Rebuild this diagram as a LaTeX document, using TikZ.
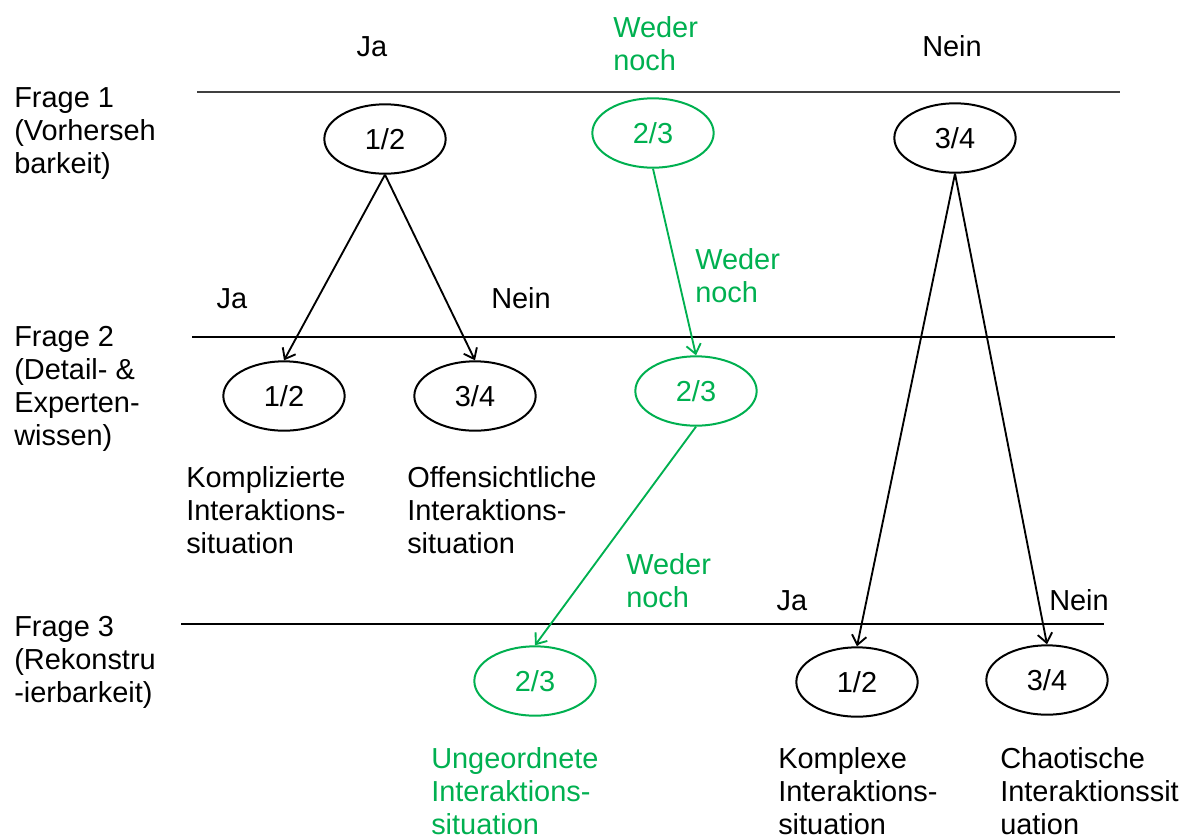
\documentclass[tikz,border=0pt]{standalone}
\usepackage{fontspec}
\setmainfont{Liberation Sans}
\usetikzlibrary{shapes.geometric,arrows.meta}
\definecolor{pgreen}{HTML}{00B050}
\begin{document}
\begin{tikzpicture}[x=0.75pt,y=-0.75pt,
  every node/.style={font=\fontsize{21.7}{24.75}\selectfont, inner sep=0pt},
  lbl/.style={anchor=base west, align=left},
  clbl/.style={anchor=base, align=center},
  oval/.style={draw, ellipse, line width=1.5pt, minimum width=91pt, minimum height=52pt},
  goval/.style={oval, draw=pgreen, text=pgreen},
  arr/.style={line width=1.4pt, -{Straight Barb[length=7pt,width=11pt]}},
  garr/.style={arr, draw=pgreen},
  gtxt/.style={lbl, text=pgreen},
  hline/.style={line width=0.8pt}]
\useasboundingbox (0,0) rectangle (1185,836);

% horizontal lines
\coordinate (l1a) at (197,92);  \coordinate (l1b) at (1120,92);
\coordinate (l2a) at (192,337); \coordinate (l2b) at (1115,337);
\coordinate (l3a) at (181,624); \coordinate (l3b) at (1104,624);
\draw[hline, draw=black!75, line width=1.1pt] (l1a) -- (l1b);
\draw[hline] (l2a) -- (l2b);
\draw[hline] (l3a) -- (l3b);

% top labels (base anchor = baseline of last line)
\node[clbl] (ja1) at (372,56) {Ja};
\node[gtxt] (wn1) at (613,70) {Weder\\noch};
\node[clbl] (nein1) at (952,56) {Nein};

% question labels
\node[lbl] (f1) at (14,173) {Frage 1\\(Vorherseh\\barkeit)};
\node[lbl] (f2) at (14,445) {Frage 2\\(Detail- \&\\Experten-\\wissen)};
\node[lbl] (f3) at (14,702) {Frage 3\\(Rekonstru\\-ierbarkeit)};

% ovals
\node[oval]  (a12) at (385,139) {1/2};
\node[goval] (a23) at (653,133) {2/3};
\node[oval]  (a34) at (955,138) {3/4};

\node[oval]  (b12) at (284,396) {1/2};
\node[oval]  (b34) at (475,396) {3/4};
\node[goval] (b23) at (696,391) {2/3};

\node[goval] (c23) at (535,681) {2/3};
\node[oval]  (c12) at (857,682) {1/2};
\node[oval]  (c34) at (1047,680) {3/4};

% arrows
\draw[arr] (a12.south) -- (b12.north);
\draw[arr] (a12.south) -- (b34.north);
\draw[garr] (a23.south) -- (b23.north);
\draw[garr] (b23.south) -- (c23.north);
\draw[arr] (a34.south) -- (c12.north);
\draw[arr] (a34.south) -- (c34.north);

% branch labels
\node[clbl] (ja2) at (232,308) {Ja};
\node[clbl] (nein2) at (521,308) {Nein};
\node[gtxt] (wn2) at (695,302) {Weder\\noch};
\node[gtxt] (wn3) at (626,607) {Weder\\noch};
\node[clbl] (ja3) at (792,610) {Ja};
\node[clbl] (nein3) at (1079,610) {Nein};

% outcome labels
\node[lbl] (o1) at (186,553) {Komplizierte\\Interaktions-\\situation};
\node[lbl] (o2) at (407,553) {Offensichtliche\\Interaktions-\\situation};
\node[gtxt] (o3) at (431,834) {Ungeordnete\\Interaktions-\\situation};
\node[lbl] (o4) at (778,834) {Komplexe\\Interaktions-\\situation};
\node[lbl] (o5) at (1000,834) {Chaotische\\Interaktionssit\\uation};
\end{tikzpicture}
\end{document}
